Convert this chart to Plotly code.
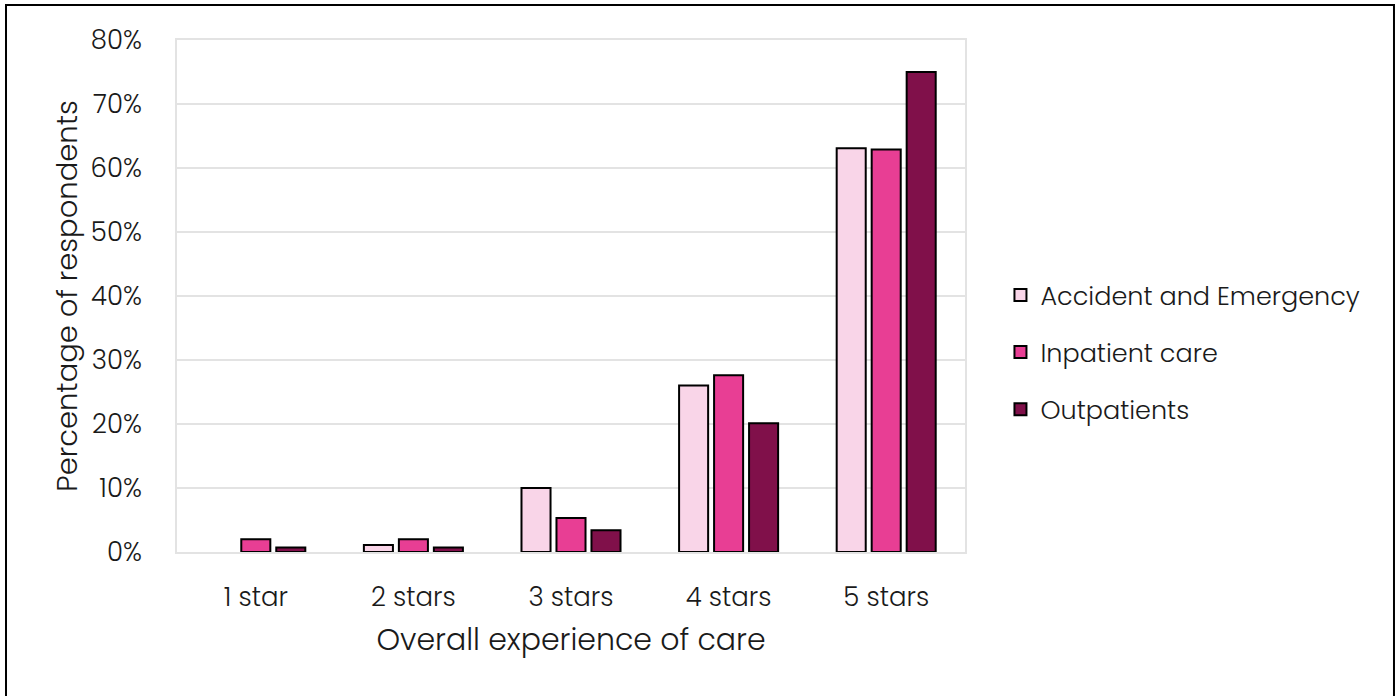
import plotly.graph_objects as go

categories = ["1 star", "2 stars", "3 stars", "4 stars", "5 stars"]
series_names = ["Accident and Emergency", "Inpatient care", "Outpatients"]
ae = [None, 1.1, 10.0, 26.0, 63.1]
inpatient = [2.0, 2.0, 5.3, 27.6, 62.9]
outpatients = [0.7, 0.7, 3.4, 20.1, 75.0]
colors = ["#F9D5E8", "#E83E94", "#80104A"]
y_ticks = [0, 10, 20, 30, 40, 50, 60, 70, 80]
y_ticklabels = [f"{v}%" for v in y_ticks]

FONT = "Poppins, Open Sans, sans-serif"

fig = go.Figure()
for i, (name, vals) in enumerate(zip(series_names, [ae, inpatient, outpatients])):
    fig.add_trace(go.Bar(
        x=categories, y=vals, name=name,
        marker=dict(color=colors[i], line=dict(color="black", width=2)),
        legendgroup=f"g{i}",
    ))

fig.update_layout(
    width=1399, height=696,
    margin=dict(l=177, r=434, t=40, b=144),
    paper_bgcolor="white", plot_bgcolor="white",
    barmode="group", bargap=0.334, bargroupgap=0.17,
    font=dict(family=FONT, size=26, color="#1a1a1a", weight=300),
    showlegend=True,
    legend=dict(x=1.045, y=0.39, xanchor="left", yanchor="middle",
                traceorder="grouped", tracegroupgap=21,
                font=dict(size=25.5, family=FONT, color="#1a1a1a", weight=300),
                itemwidth=30),
    shapes=[dict(type="rect", xref="paper", yref="paper",
                 x0=-0.2170, x1=1.5444, y0=-0.30, y1=1.0684,
                 line=dict(color="black", width=2), fillcolor="rgba(0,0,0,0)")],
)
fig.update_yaxes(
    range=[0, 80], tickvals=y_ticks, ticktext=y_ticklabels,
    showgrid=True, gridcolor="#E3E3E3", gridwidth=2,
    zeroline=False, showline=True, linecolor="#E3E3E3", linewidth=2,
    mirror=True, ticklabelstandoff=28,
    title=dict(text="Percentage of respondents", font=dict(size=29, weight=300), standoff=4),
)
fig.update_xaxes(
    showline=True, linecolor="#E3E3E3", linewidth=2, mirror=True,
    ticklabelstandoff=21,
    title=dict(text="Overall experience of care", font=dict(size=30, weight=300), standoff=15),
)

fig.write_html("out.html")
